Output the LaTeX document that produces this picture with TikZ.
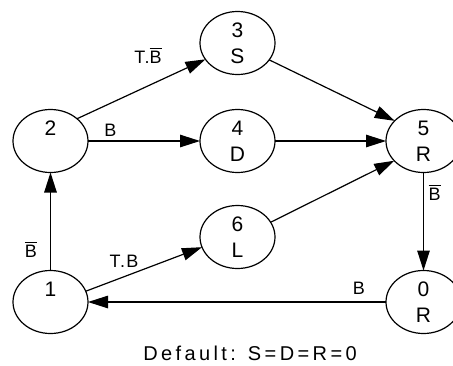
\documentclass[tikz,border=0pt]{standalone}
\usepackage{fontspec}
\setmainfont{Liberation Sans}
\newfontfamily\spacedfont[LetterSpace=17]{Liberation Sans}
\newfontfamily\lblfont[LetterSpace=8]{Liberation Sans}
\usetikzlibrary{shapes.geometric,arrows.meta}
\newcommand{\ovB}{\leavevmode\hbox{\vbox{\hrule height 1.2pt\kern 1.8pt\hbox{B}}}}
\tikzset{
  state/.style={ellipse, draw, line width=1.2pt, minimum width=75pt, minimum height=63pt,
    inner sep=0pt, outer sep=0pt, align=center, font=\fontsize{21}{26}\selectfont},
  arr/.style={-{Triangle[length=20pt,width=12.5pt]}, line width=1.2pt},
  lbl/.style={font=\lblfont\fontsize{18}{20}\selectfont, inner sep=0pt, anchor=base}
}
\begin{document}
\begin{tikzpicture}[x=1pt,y=-1pt]
\useasboundingbox (0,0) rectangle (453,365);
\node[state] (n3) at (237.5,43) {3\\S};
\node[state] (n2) at (50.5,141) {2\\\phantom{S}};
\node[state] (n4) at (237.5,141) {4\\D};
\node[state] (n5) at (423.5,141) {5\\R};
\node[state] (n6) at (237.5,237) {6\\L};
\node[state] (n1) at (50.5,302) {1\\\phantom{S}};
\node[state] (n0) at (423.5,302) {0\\R};

\draw[arr] (n2.40) -- (n3.207);
\draw[arr] (n2.east) -- (n4.west);
\draw[arr] (n3.-28) -- (n5.145);
\draw[arr] (n4.east) -- (n5.west);
\draw[arr] (n6.24) -- (n5.214);
\draw[arr] (n5.south) -- (n0.north);
\draw[arr] (n0.west) -- (n1.east);
\draw[arr] (n1.17.6) -- (n6.196.5);
\draw[arr] (n1.north) -- (n2.south);

\node[lbl] (l23) at (148,63.3) {T.\ovB};
\node[lbl] (l24) at (110.5,136) {B};
\node[lbl] (l12) at (31,257) {\ovB};
\node[lbl] (l16) at (124,267) {T.B};
\node[lbl] (l01) at (359,294) {B};
\node[lbl] (l50) at (434.5,200) {\ovB};
\node[font=\spacedfont\fontsize{20}{24}\selectfont, inner sep=0pt, anchor=base] (def) at (250,360.7) {Default: S=D=R=0};
\end{tikzpicture}
\end{document}
